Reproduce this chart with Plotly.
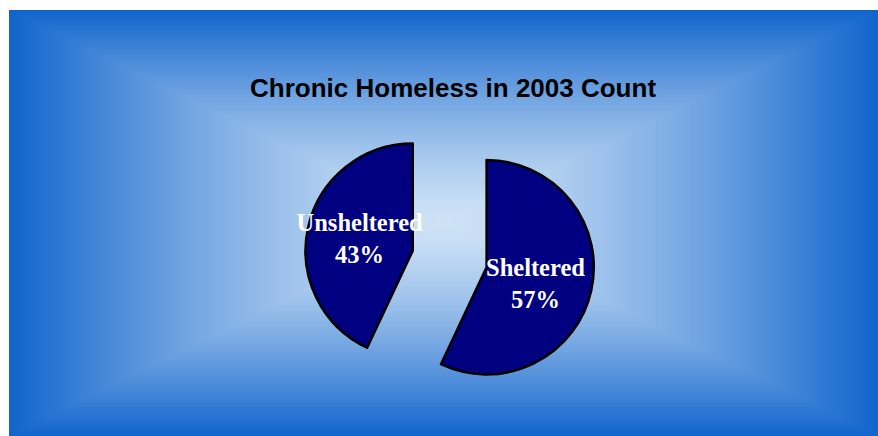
import base64, struct, zlib
import numpy as np
import plotly.graph_objects as go

labels = ["Sheltered", "Unsheltered"]
values = [57, 43]
title_text = "Chronic Homeless in 2003 Count"

# ---- background: rectangular "from center" gradient rendered as PNG ----
W, H = 869, 426
edge = np.array([16, 100, 204], dtype=float)
center = np.array([206, 226, 246], dtype=float)
xs = (np.arange(W) + 0.5 - W / 2) / (W / 2)
ys = (np.arange(H) + 0.5 - H / 2) / (H / 2)
t = np.maximum(np.abs(xs)[None, :], np.abs(ys)[:, None])
f = np.clip(t, 0, 1) ** 1.35
img = center[None, None, :] * (1 - f[..., None]) + edge[None, None, :] * f[..., None]
img = np.clip(np.round(img), 0, 255).astype(np.uint8)


def png_bytes(arr):
    h, w, _ = arr.shape
    raw = b"".join(b"\x00" + arr[i].tobytes() for i in range(h))

    def chunk(tag, data):
        c = struct.pack(">I", len(data)) + tag + data
        return c + struct.pack(">I", zlib.crc32(tag + data) & 0xFFFFFFFF)

    return (b"\x89PNG\r\n\x1a\n" + chunk(b"IHDR", struct.pack(">IIBBBBB", w, h, 8, 2, 0, 0, 0))
            + chunk(b"IDAT", zlib.compress(raw, 9)) + chunk(b"IEND", b""))


bg_uri = "data:image/png;base64," + base64.b64encode(png_bytes(img)).decode()

fig = go.Figure(go.Pie(
    labels=labels,
    values=values,
    sort=False,
    direction="clockwise",
    rotation=0,
    pull=[0.353, 0.353],
    marker=dict(colors=["#000080", "#000080"], line=dict(color="#000000", width=2.5)),
    texttemplate=["\u00a0<br>%{label}<br>%{percent}", "%{label}<br>%{percent}"],
    textposition="inside",
    insidetextorientation="horizontal",
    textfont=dict(family="Liberation Serif", size=24.5, color="white", weight="bold"),
    hoverinfo="label+percent",
    showlegend=False,
    domain=dict(x=[0.2071, 0.8071], y=[0.0751, 0.756]),
))

fig.update_layout(
    width=878, height=436,
    margin=dict(l=9, r=0, t=10, b=0),
    paper_bgcolor="white",
    plot_bgcolor="rgba(0,0,0,0)",
    uniformtext=dict(minsize=24.5, mode="show"),
    title=dict(text=title_text, x=0.511, xref="paper", xanchor="center",
               y=1 - 87.5 / 436, yref="container", yanchor="middle",
               font=dict(family="Liberation Sans", size=26, color="black", weight="bold")),
    images=[dict(source=bg_uri, xref="paper", yref="paper", x=0, y=1, sizex=1, sizey=1,
                 xanchor="left", yanchor="top", sizing="stretch", layer="below")],
)

fig.write_html("out.html")
